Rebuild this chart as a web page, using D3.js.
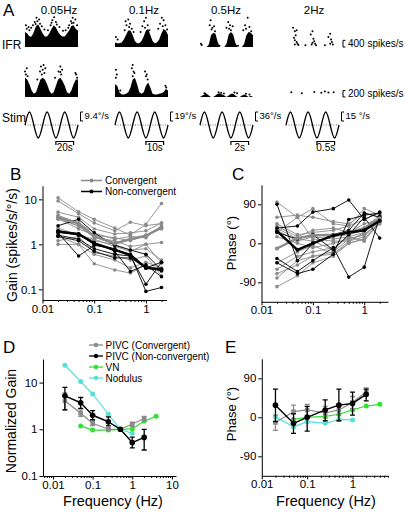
<!DOCTYPE html>
<html><head><meta charset="utf-8">
<script src="https://cdn.jsdelivr.net/npm/d3@7"></script>
<style>body{margin:0;background:#fff}svg{display:block}</style>
</head><body><svg id="c" width="406" height="512"></svg>
<script>
// ================= DATA =================
// Panel A
const freqLabels = ["0.05Hz", "0.1Hz", "0.5Hz", "2Hz"];
const stimAmpLabels = ["9.4°/s", "19°/s", "36°/s", "15 °/s"];
const timeBarLabels = ["20s", "10s", "2s", "0.5s"];
const ifrScaleValues = [400, 200];
const ifrScaleLabels = ["400 spikes/s", "200 spikes/s"];
const timeBarCycles = [1.75, 2.75];
const stimCycle = [0, 0.25, 0.5, 0.75, 1, 1.25, 1.5, 1.75, 2, 2.25, 2.5, 2.75, 3];
const stimValue = [0, 1, 0, -1, 0, 1, 0, -1, 0, 1, 0, -1, 0];
const envCycle = [0, 0.125, 0.25, 0.375, 0.5, 0.625, 0.75, 0.875, 1, 1.125, 1.25, 1.375, 1.5, 1.625, 1.75, 1.875, 2, 2.125, 2.25, 2.375, 2.5, 2.625, 2.75, 2.875, 3];
// dense part of IFR rasters (spikes/s), row 1 = convergent cell, row 2 = non-convergent cell
const ifrRow1Env = [
  [900, 810, 630, 630, 900, 1260, 1350, 1080, 810, 630, 630, 810, 1080, 1300, 1170, 900, 720, 630, 630, 810, 990, 1260, 1300, 1080, 990],
  [270, 220, 220, 270, 450, 720, 990, 990, 720, 360, 220, 220, 360, 630, 990, 1080, 720, 360, 220, 270, 450, 810, 1080, 990, 720],
  [0, 0, 0, 0, 150, 700, 850, 800, 300, 0, 0, 0, 200, 750, 900, 750, 250, 0, 0, 0, 200, 700, 900, 850, 700],
  null
];
const ifrRow2Env = [
  [600, 550, 400, 200, 100, 150, 350, 550, 600, 550, 400, 200, 100, 150, 350, 550, 600, 500, 350, 150, 100, 200, 400, 550, 550],
  [400, 350, 150, 80, 80, 100, 150, 300, 550, 600, 400, 150, 100, 150, 350, 450, 300, 100, 80, 80, 100, 120, 150, 250, 200],
  [0, 50, 80, 100, 50, 0, 0, 50, 100, 120, 80, 50, 0, 50, 100, 100, 50, 0, 0, 50, 80, 50, 0, 40, 0],
  null
];
// scattered IFR points [cycle, spikes/s]
const ifrRow1Dots = [
  [[0.05,1300],[0.1,1100],[0.25,1000],[0.45,1300],[0.55,1500],[0.65,1750],[0.7,1550],[0.8,1650],[0.85,1400],[0.95,1250],[1.45,1300],[1.55,1600],[1.65,1780],[1.75,1500],[1.8,1350],[1.95,1200],[2.5,1300],[2.6,1550],[2.7,1750],[2.75,1450],[2.85,1650],[2.95,1300],[1.3,1000],[2.3,1000],[0.35,1150],[0.2,1200],[0.6,1380],[1.1,1050],[1.5,1450],[2.15,980],[2.45,1150],[2.65,1420]],
  [[0.05,600],[0.55,1000],[0.65,1300],[0.75,1650],[0.85,1400],[0.95,1100],[1.05,900],[1.45,900],[1.55,1250],[1.65,1550],[1.75,1750],[1.85,1300],[1.95,1000],[2.45,1100],[2.55,1400],[2.65,1750],[2.75,1600],[2.85,1300],[2.95,1050],[0.6,1550],[0.8,1200],[1.7,1150],[2.7,1250],[0.15,450]],
  [[0.05,200],[0.1,120],[0.55,1300],[0.6,1600],[0.7,1150],[0.8,1250],[0.85,950],[1.5,1150],[1.6,1500],[1.7,1300],[1.75,1000],[1.85,1250],[2.45,1000],[2.55,1300],[2.7,1750],[2.8,1200],[2.9,950],[1.1,80],[2.15,80],[0.65,1050],[1.65,1100],[2.6,1100]],
  [[0.4,1150],[0.5,950],[0.55,700],[0.6,1000],[0.45,550],[0.5,400],[0.6,300],[0.65,200],[0.5,150],[1.4,750],[1.5,950],[1.55,500],[1.6,350],[1.5,250],[1.65,200],[1.45,150],[1.1,100],[2.4,600],[2.5,800],[2.55,450],[2.6,300],[2.5,200],[2.65,150],[2.2,100],[0.7,120],[1.7,100]]
];
const ifrRow2Dots = [
  [[0.0,800],[0.05,700],[0.1,900],[0.15,650],[0.85,800],[0.9,950],[1.0,850],[1.05,1000],[1.1,750],[1.15,900],[1.9,800],[2.0,950],[2.05,700],[2.1,850],[2.85,750],[2.9,700],[2.95,600],[0.7,550],[1.7,600],[0.95,700],[2.0,780]],
  [[0.05,850],[0.1,700],[0.05,600],[0.95,900],[1.0,1000],[1.05,800],[1.1,750],[1.0,650],[1.7,800],[1.75,650],[1.8,700],[1.85,550],[2.85,350],[2.9,300],[0.3,200]],
  [[0.25,120],[0.3,100],[1.05,150],[1.2,130],[1.35,110],[1.95,140],[2.1,120],[2.6,100],[2.8,80]],
  [[0.3,150],[0.9,120],[1.6,160],[2.0,130],[2.2,170],[2.4,140],[2.7,150]]
];

// Panel B/C (individual neurons)
const freqs = [0.02, 0.05, 0.1, 0.25, 0.5, 1, 2];
const gainConv = [
  [10.8, 5.3, 3.6, 2.3, 1.6, 2.8, 8.1],
  [9.2, 4.8, 3.0, 2.0, 3.1, 2.6, 2.9],
  [5.2, 4.0, 2.2, 1.7, 1.8, 2.0, 3.0],
  [4.4, 3.0, 1.8, 1.3, 1.5, 1.4, 2.6],
  [4.0, 2.5, 1.5, 1.0, 1.3, 1.5, 2.3],
  [3.6, 2.6, 1.4, 1.2, 0.9, 1.0, 1.1],
  [3.8, 2.2, 1.6, 1.4, 1.2, 1.6, 2.2],
  [2.3, 1.6, 1.2, 1.0, 0.75, 0.8, 0.45],
  [2.1, 1.6, 1.3, 0.9, 0.7, 1.0, 0.38],
  [1.5, 1.0, 0.37, 0.27, 0.23, 0.35, 0.25],
  [1.0, 1.0, 0.6, 0.45, 0.3, 0.4, 0.3],
  [1.2, 1.5, 0.65, 0.55, 0.45, 0.55, 0.2]
];
const gainConvMean = [4.0, 2.9, 1.5, 1.05, 1.3, 1.55, 2.4];
const gainNon = [
  [2.6, 3.6, 1.8, 0.95, 0.75, 0.6, 0.27],
  [1.8, 0.55, 0.95, 0.8, 0.55, 0.3, 0.4],
  [2.0, 1.7, 1.0, 0.75, 0.6, 0.09, 0.11],
  [1.6, 1.3, 0.8, 0.6, 0.55, 0.13, 0.4],
  [1.9, 1.6, 1.1, 0.7, 0.25, 0.35, 0.19],
  [1.5, 1.2, 0.7, 0.5, 0.5, 0.3, 0.26]
];
const gainNonMean = [1.9, 1.7, 1.05, 0.75, 0.58, 0.3, 0.28];
const phaseConv = [
  [95, 60, 80, 45, 40, 80, 65],
  [60, 65, 60, 50, 45, 70, 60],
  [45, 20, 25, 30, 40, 55, 70],
  [40, 15, 30, 35, 25, 45, 55],
  [35, 10, 20, 15, 20, 30, 50],
  [30, 5, 15, 10, 15, 25, 60],
  [25, 60, 10, 5, 5, 15, 55],
  [15, 0, -10, 0, 10, 20, 50],
  [-12, 10, 5, -15, 20, 35, 65],
  [-45, -20, -5, -25, 0, 10, 45],
  [-60, -30, -20, -10, 15, 5, 50],
  [-70, -50, -30, -25, 5, 25, 55],
  [-80, -40, -30, -20, 10, 20, 45],
  [-100, -75, -45, -30, 0, 10, 50]
];
const phaseConvMean = [-12, 12, 18, 20, 25, 35, 58];
const phaseNon = [
  [90, -40, 0, 20, 30, 70, 60],
  [35, 40, 72, 80, 100, 55, 72],
  [-35, -65, -40, -10, -78, -55, 62],
  [-45, -70, -60, -25, 55, 65, 70],
  [25, 10, 20, -15, 20, 60, 12]
];
const phaseNonMean = [28, -15, 0, 18, 25, 30, 52];

// Panel D/E (population)
const seriesNames = ["PIVC (Convergent)", "PIVC (Non-convergent)", "VN", "Nodulus"];
const freqsVN = [0.05, 0.1, 0.25, 0.5, 1, 2, 4];
const freqsNod = [0.02, 0.05, 0.1, 0.25, 0.5, 1];
const normGainConv = [4.1, 2.2, 1.35, 1.0, 1.0, 1.3, 1.7];
const normGainConvLo = [2.6, 1.9, 1.2, 0.95, null, 1.15, 1.5];
const normGainConvHi = [6.0, 2.6, 1.5, 1.05, null, 1.4, 1.9];
const normGainNon = [5.2, 3.7, 2.0, 1.45, 1.0, 0.52, 0.67];
const normGainNonLo = [2.6, 2.8, 1.6, 1.18, null, 0.4, 0.36];
const normGainNonHi = [7.9, 4.8, 2.5, 1.85, null, 0.68, 1.0];
const normGainVN = [1.18, 0.96, 0.96, 1.0, 1.02, 1.5, 1.9];
const normGainNod = [23.5, 10.5, 5.7, 2.1, 1.0, 0.82];
const popPhaseConv = [-12, 13, 17, 10, 17, 34, 59];
const popPhaseConvLo = [-30, -3, 5, -2, 5, 20, 50];
const popPhaseConvHi = [5, 28, 30, 25, 30, 48, 68];
const popPhaseNon = [28, -14, 0, 17, 28, 32, 53];
const popPhaseNonLo = [-10, -37, -32, -8, -8, 5, 38];
const popPhaseNonHi = [65, 8, 25, 40, 65, 58, 65];
const popPhaseVN = [-5, 0, 2, 7, 17, 26, 30];
const popPhaseNod = [1, -22, -10, -14, -5, -6];

// ================= DRAWING =================
const FONT = "'Liberation Sans', Arial, Helvetica, sans-serif";
const svg = d3.select("#c");
const GRAY = "#8a8a8a", GREEN = "#33e033", CYAN = "#55e0d8";
const TICKFS = 11.5;

function text(x, y, s, size, opt = {}) {
  const t = svg.append("text").attr("x", x).attr("y", y).text(s)
    .attr("font-family", FONT).attr("font-size", size).attr("fill", "#000");
  if (opt.anchor) t.attr("text-anchor", opt.anchor);
  if (opt.rotate) t.attr("transform", `rotate(-90,${x},${y})`);
  return t;
}

// ---- Panel A ----
text(3, 16, "A", 17);
const panelX = [25, 115, 200, 286], panelW = 53;
const xs = panelX.map(px => d3.scaleLinear().domain([0, 3]).range([px, px + panelW]));
const row1Y = d3.scaleLinear().domain([0, 1800]).range([47, 17]);
const row2Y = d3.scaleLinear().domain([0, 1000]).range([97, 65]);
const stimY = d3.scaleLinear().domain([-1, 1]).range([138, 112]);
const titleCx = [59, 144, 226, 314];
freqLabels.forEach((l, i) => text(titleCx[i], 14, l, 11.5, {anchor: "middle"}));
text(2, 49, "IFR", 12);
text(2, 122, "Stim", 12);

function drawRaster(i, env, dots, yS) {
  const g = svg.append("g");
  if (env) {
    const data = envCycle.map((c, k) => [c, env[k]]);
    g.append("path").datum(data)
      .attr("d", d3.area().x(d => xs[i](d[0])).y0(yS(0)).y1(d => yS(d[1])))
      .attr("fill", "#000");
  }
  g.selectAll("circle").data(dots).join("circle")
    .attr("cx", d => xs[i](d[0])).attr("cy", d => yS(d[1])).attr("r", 1)
    .attr("fill", "#000");
}
for (let i = 0; i < 4; i++) {
  drawRaster(i, ifrRow1Env[i], ifrRow1Dots[i], row1Y);
  drawRaster(i, ifrRow2Env[i], ifrRow2Dots[i], row2Y);
}
// IFR scale brackets
[[row1Y, 0], [row2Y, 1]].forEach(([yS, k]) => {
  const bx = 343, y0 = yS(0), y1 = yS(ifrScaleValues[k]);
  svg.append("path").attr("d", `M${bx+2.5},${y1}H${bx}V${y0}H${bx+2.5}`)
    .attr("fill", "none").attr("stroke", "#000").attr("stroke-width", 1);
  text(bx + 5, y0, ifrScaleLabels[k], 10);
});
// Stimulus
const stimData = stimCycle.map((c, k) => [c, stimValue[k]]);
for (let i = 0; i < 4; i++) {
  svg.append("line").attr("x1", xs[i](0)).attr("x2", xs[i](3))
    .attr("y1", stimY(0)).attr("y2", stimY(0))
    .attr("stroke", "#444").attr("stroke-width", 0.8).attr("stroke-dasharray", "1,1.5");
  svg.append("path").datum(stimData)
    .attr("d", d3.line().x(d => xs[i](d[0])).y(d => stimY(d[1])).curve(d3.curveNatural))
    .attr("fill", "none").attr("stroke", "#000").attr("stroke-width", 1.3);
  const bx = xs[i](3) + 2.5;
  svg.append("path").attr("d", `M${bx+2.5},${stimY(1)}H${bx}V${stimY(1)+9}H${bx+2.5}`)
    .attr("fill", "none").attr("stroke", "#000").attr("stroke-width", 1);
  text(bx + 4, stimY(1) + 7, stimAmpLabels[i], 9.5);
  const tx0 = xs[i](timeBarCycles[0]), tx1 = xs[i](timeBarCycles[1]);
  svg.append("path").attr("d", `M${tx0},${145}V${141.5}H${tx1}V${145}`)
    .attr("fill", "none").attr("stroke", "#000").attr("stroke-width", 1.2);
  text((tx0 + tx1) / 2, 151, timeBarLabels[i], 10, {anchor: "middle"});
}

// ---- helper for axes ----
function styleAxis(g, fs) {
  g.selectAll("path.domain").attr("stroke", "#000").attr("stroke-width", 1);
  g.selectAll(".tick line").attr("stroke", "#000").attr("stroke-width", 1);
  g.selectAll("text").attr("font-family", FONT).attr("font-size", fs).attr("fill", "#000");
}
function xAxis(scale, y, ticks, labels, minor) {
  if (minor) {
    const gm = svg.append("g").attr("transform", `translate(0,${y})`)
      .call(d3.axisBottom(scale).tickValues(minor).tickSize(2).tickFormat("").tickSizeOuter(0));
    styleAxis(gm, TICKFS); gm.select("path.domain").remove();
  }
  const g = svg.append("g").attr("transform", `translate(0,${y})`)
    .call(d3.axisBottom(scale).tickValues(ticks).tickSize(3.5).tickPadding(1).tickSizeOuter(0)
      .tickFormat((d, i) => labels[i]));
  styleAxis(g, TICKFS);
}
function yAxis(scale, x, ticks, labels) {
  const g = svg.append("g").attr("transform", `translate(${x},0)`)
    .call(d3.axisLeft(scale).tickValues(ticks).tickSize(3.5).tickPadding(2).tickSizeOuter(0)
      .tickFormat((d, i) => labels[i]));
  styleAxis(g, TICKFS);
}
const minorLog = [0.006,0.007,0.008,0.009,0.02,0.03,0.04,0.05,0.06,0.07,0.08,0.09,0.2,0.3,0.4,0.5,0.6,0.7,0.8,0.9,2,3,4,5,6,7,8,9];
function lineSeries(xS, yS, xsv, ys, color, w, r, shape) {
  const data = xsv.map((x, k) => [x, ys[k]]);
  svg.append("path").datum(data)
    .attr("d", d3.line().x(d => xS(d[0])).y(d => yS(d[1])))
    .attr("fill", "none").attr("stroke", color).attr("stroke-width", w).attr("stroke-linejoin", "round");
  if (shape === "square") {
    svg.append("g").selectAll("rect").data(data).join("rect")
      .attr("x", d => xS(d[0]) - r).attr("y", d => yS(d[1]) - r)
      .attr("width", 2 * r).attr("height", 2 * r).attr("fill", color);
  } else {
    svg.append("g").selectAll("circle").data(data).join("circle")
      .attr("cx", d => xS(d[0])).attr("cy", d => yS(d[1])).attr("r", r).attr("fill", color);
  }
}
function errBars(xS, yS, xsv, lo, hi, color) {
  xsv.forEach((x, k) => {
    if (lo[k] == null) return;
    const cx = xS(x);
    svg.append("path").attr("d", `M${cx},${yS(lo[k])}V${yS(hi[k])}M${cx-2.5},${yS(lo[k])}H${cx+2.5}M${cx-2.5},${yS(hi[k])}H${cx+2.5}`)
      .attr("stroke", color).attr("stroke-width", 1.3).attr("fill", "none");
  });
}

// ---- Panel B ----
text(10, 180, "B", 17);
const bX = d3.scaleLog().domain([0.01, 2.5]).range([42.5, 166.5]);
const bY = d3.scaleLog().domain([0.058, 20]).range([300, 185.8]);
xAxis(bX, 300, [0.01, 0.1, 1], ["0.01", "0.1", "1"], minorLog.filter(v => v > 0.01 && v < 2.5));
yAxis(bY, 42.5, [0.1, 1, 10], ["0.1", "1", "10"]);
text(17, 245, "Gain (spikes/s/°/s)", 14, {anchor: "middle", rotate: true});
gainConv.forEach(s => lineSeries(bX, bY, freqs, s, GRAY, 0.9, 1.8));
gainNon.forEach(s => lineSeries(bX, bY, freqs, s, "#000", 0.9, 1.8));
lineSeries(bX, bY, freqs, gainConvMean, GRAY, 2.4, 2);
lineSeries(bX, bY, freqs, gainNonMean, "#000", 2.4, 2);
// legend B
[[GRAY, "Convergent", 180.5], ["#000", "Non-convergent", 191.5]].forEach(([c, l, y]) => {
  svg.append("line").attr("x1", 81).attr("x2", 102).attr("y1", y).attr("y2", y).attr("stroke", c).attr("stroke-width", 1.5);
  svg.append("circle").attr("cx", 91.5).attr("cy", y).attr("r", 2).attr("fill", c);
  text(105, y + 3.5, l, 10);
});

// ---- Panel C ----
text(232, 180, "C", 17);
const cX = d3.scaleLog().domain([0.01, 2.9]).range([261.5, 388]);
const cY = d3.scaleLinear().domain([-135, 135]).range([301.8, 184.8]);
xAxis(cX, 301.8, [0.01, 0.1, 1], ["0.01", "0.1", "1"], minorLog.filter(v => v > 0.01 && v < 2.9));
yAxis(cY, 261.5, [-90, 0, 90], ["-90", "0", "90"]);
text(236, 243, "Phase (°)", 13, {anchor: "middle", rotate: true});
phaseConv.forEach(s => lineSeries(cX, cY, freqs, s, GRAY, 0.9, 1.8));
phaseNon.forEach(s => lineSeries(cX, cY, freqs, s, "#000", 0.9, 1.8));
lineSeries(cX, cY, freqs, phaseConvMean, GRAY, 2.4, 2);
lineSeries(cX, cY, freqs, phaseNonMean, "#000", 2.4, 2);

// ---- Panel D ----
text(3, 353, "D", 17);
const dX = d3.scaleLog().domain([0.0056, 12.7]).range([43, 176]);
const dY = d3.scaleLog().domain([0.1, 32]).range([476, 359]);
xAxis(dX, 476, [0.01, 0.1, 1, 10], ["0.01", "0.1", "1", "10"], minorLog.filter(v => v > 0.0056 && v < 12.7));
yAxis(dY, 43, [0.1, 1, 10], ["0.1", "1", "10"]);
text(16, 421, "Normalized Gain", 14, {anchor: "middle", rotate: true});
text(113, 506, "Frequency (Hz)", 14.5, {anchor: "middle"});
lineSeries(dX, dY, freqsNod, normGainNod, CYAN, 1.2, 2.5);
lineSeries(dX, dY, freqsVN, normGainVN, GREEN, 1.2, 2.5);
errBars(dX, dY, freqs, normGainConvLo, normGainConvHi, GRAY);
lineSeries(dX, dY, freqs, normGainConv, GRAY, 1.2, 2.3, "square");
errBars(dX, dY, freqs, normGainNonLo, normGainNonHi, "#000");
lineSeries(dX, dY, freqs, normGainNon, "#000", 1.4, 2.8);
// legend D
const legColors = [GRAY, "#000", GREEN, CYAN];
seriesNames.forEach((n, k) => {
  const y = 345 + k * 11;
  svg.append("line").attr("x1", 89).attr("x2", 103).attr("y1", y).attr("y2", y).attr("stroke", legColors[k]).attr("stroke-width", 1.3);
  svg.append("circle").attr("cx", 96).attr("cy", y).attr("r", 2.2).attr("fill", legColors[k]);
  text(105.5, y + 3.5, n, 10);
});

// ---- Panel E ----
text(225, 353, "E", 17);
const eX = d3.scaleLog().domain([0.01, 6.05]).range([261.8, 388]);
const eY = d3.scaleLinear().domain([-135, 135]).range([475.8, 358.8]);
xAxis(eX, 475.8, [0.01, 0.1, 1], ["0.01", "0.1", "1"], minorLog.filter(v => v > 0.01 && v < 6.05));
yAxis(eY, 261.8, [-90, 0, 90], ["-90", "0", "90"]);
text(236, 414, "Phase (°)", 13, {anchor: "middle", rotate: true});
text(326, 506, "Frequency (Hz)", 14.5, {anchor: "middle"});
lineSeries(eX, eY, freqsNod, popPhaseNod, CYAN, 1.2, 2.5);
lineSeries(eX, eY, freqsVN, popPhaseVN, GREEN, 1.2, 2.5);
errBars(eX, eY, freqs, popPhaseConvLo, popPhaseConvHi, GRAY);
lineSeries(eX, eY, freqs, popPhaseConv, GRAY, 1.2, 2.3, "square");
errBars(eX, eY, freqs, popPhaseNonLo, popPhaseNonHi, "#000");
lineSeries(eX, eY, freqs, popPhaseNon, "#000", 1.4, 2.8);
</script></body></html>
